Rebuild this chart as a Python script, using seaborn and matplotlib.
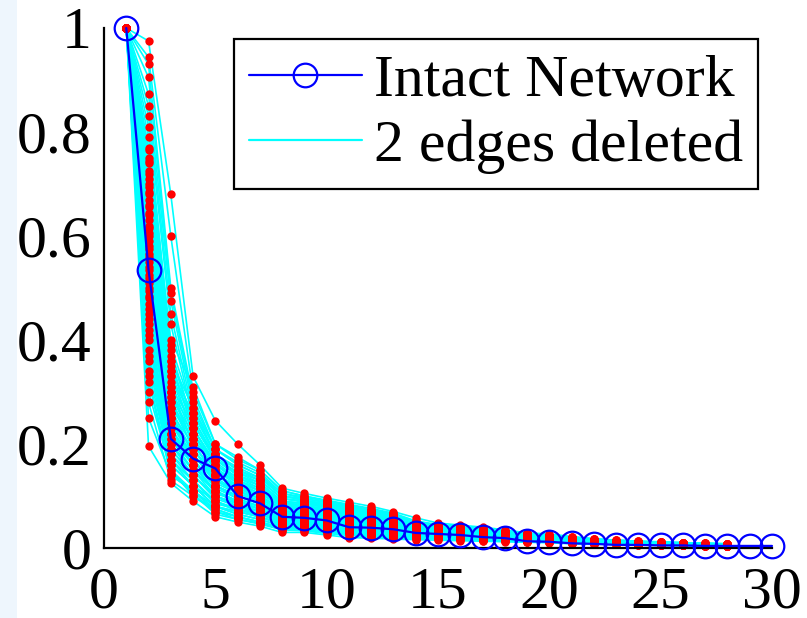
import numpy as np
import pandas as pd
import matplotlib
matplotlib.use("Agg")
import matplotlib.pyplot as plt
from matplotlib.lines import Line2D
from matplotlib.patches import Rectangle
import seaborn as sns

# ---------------- data ----------------
steps_intact = list(range(1, 31))
intact = [1.0, 0.535, 0.21, 0.172, 0.153, 0.10, 0.086, 0.06, 0.058, 0.053,
          0.04, 0.039, 0.036, 0.029, 0.027, 0.025, 0.021, 0.019, 0.013, 0.012,
          0.009, 0.008, 0.006, 0.006, 0.005, 0.005, 0.004, 0.004, 0.004, 0.004]

# values of the "2 edges deleted" curves at each step (entry i belongs to curve i)
del_s01 = [1.0] * 64
del_s02 = [0.975, 0.944, 0.93, 0.905, 0.873, 0.85, 0.83, 0.81, 0.79, 0.77, 0.75, 0.74, 0.72, 0.71, 0.70, 0.68, 0.67, 0.66, 0.64, 0.63, 0.62, 0.60, 0.59, 0.58, 0.56, 0.55, 0.54, 0.52, 0.51, 0.50, 0.48, 0.47, 0.45, 0.44, 0.42, 0.40, 0.38, 0.36, 0.34, 0.32, 0.30, 0.28, 0.25, 0.196,
           0.765, 0.745, 0.725, 0.695, 0.685, 0.655, 0.645, 0.615, 0.605, 0.575, 0.565, 0.535, 0.525, 0.495, 0.485, 0.46, 0.43, 0.41, 0.37, 0.33]
del_s03 = [0.68, 0.60, 0.50, 0.49, 0.475, 0.45, 0.43, 0.37, 0.39, 0.35, 0.34, 0.33, 0.38, 0.32, 0.31, 0.30, 0.36, 0.29, 0.28, 0.27, 0.26, 0.25, 0.30, 0.24, 0.23, 0.22, 0.25, 0.21, 0.20, 0.20, 0.19, 0.22, 0.18, 0.17, 0.18, 0.16, 0.17, 0.15, 0.16, 0.14, 0.15, 0.13, 0.14, 0.125,
           0.40, 0.36, 0.34, 0.33, 0.31, 0.30, 0.29, 0.28, 0.27, 0.26, 0.25, 0.24, 0.23, 0.22, 0.21, 0.20, 0.19, 0.17, 0.16, 0.145]
del_s04 = [0.33, 0.30, 0.29, 0.28, 0.27, 0.26, 0.25, 0.24, 0.26, 0.23, 0.22, 0.22, 0.24, 0.21, 0.20, 0.20, 0.23, 0.19, 0.19, 0.18, 0.18, 0.17, 0.20, 0.17, 0.16, 0.16, 0.17, 0.15, 0.15, 0.14, 0.14, 0.16, 0.13, 0.13, 0.14, 0.12, 0.12, 0.11, 0.12, 0.11, 0.10, 0.10, 0.11, 0.09,
           0.31, 0.27, 0.26, 0.25, 0.24, 0.23, 0.22, 0.21, 0.21, 0.20, 0.19, 0.18, 0.17, 0.17, 0.16, 0.15, 0.14, 0.13, 0.12, 0.105]
del_s05 = [0.245, 0.20, 0.19, 0.19, 0.18, 0.18, 0.17, 0.17, 0.18, 0.16, 0.16, 0.15, 0.17, 0.15, 0.14, 0.14, 0.16, 0.14, 0.13, 0.13, 0.13, 0.12, 0.14, 0.12, 0.12, 0.11, 0.12, 0.11, 0.11, 0.10, 0.10, 0.11, 0.09, 0.09, 0.10, 0.08, 0.09, 0.08, 0.08, 0.07, 0.075, 0.07, 0.075, 0.06,
           0.20, 0.19, 0.18, 0.175, 0.17, 0.165, 0.16, 0.155, 0.15, 0.145, 0.135, 0.125, 0.12, 0.115, 0.105, 0.10, 0.095, 0.085, 0.08, 0.065]
del_s06 = [0.20, 0.17, 0.165, 0.16, 0.155, 0.15, 0.145, 0.14, 0.15, 0.135, 0.13, 0.13, 0.14, 0.125, 0.12, 0.12, 0.13, 0.115, 0.11, 0.11, 0.105, 0.10, 0.115, 0.10, 0.095, 0.09, 0.10, 0.09, 0.085, 0.085, 0.08, 0.09, 0.075, 0.075, 0.08, 0.07, 0.07, 0.065, 0.07, 0.06, 0.06, 0.055, 0.06, 0.05,
           0.175, 0.16, 0.15, 0.145, 0.14, 0.135, 0.13, 0.125, 0.12, 0.115, 0.11, 0.105, 0.10, 0.095, 0.09, 0.085, 0.08, 0.075, 0.065, 0.055]
del_s07 = [0.16, 0.15, 0.145, 0.14, 0.135, 0.13, 0.125, 0.12, 0.13, 0.115, 0.11, 0.11, 0.12, 0.105, 0.10, 0.10, 0.11, 0.095, 0.095, 0.09, 0.09, 0.085, 0.10, 0.085, 0.08, 0.08, 0.085, 0.075, 0.075, 0.07, 0.07, 0.075, 0.065, 0.065, 0.07, 0.06, 0.06, 0.055, 0.06, 0.05, 0.05, 0.048, 0.05, 0.042,
           0.15, 0.14, 0.135, 0.13, 0.125, 0.12, 0.115, 0.11, 0.105, 0.10, 0.095, 0.09, 0.085, 0.08, 0.075, 0.07, 0.065, 0.06, 0.055, 0.046]
del_s08 = [0.115, 0.11, 0.105, 0.10, 0.10, 0.095, 0.09, 0.09, 0.095, 0.085, 0.085, 0.08, 0.085, 0.08, 0.075, 0.075, 0.08, 0.07, 0.07, 0.068, 0.065, 0.065, 0.07, 0.062, 0.06, 0.06, 0.062, 0.058, 0.055, 0.055, 0.052, 0.055, 0.05, 0.048, 0.05, 0.045, 0.045, 0.042, 0.045, 0.04, 0.038, 0.035, 0.038, 0.03,
           0.11, 0.105, 0.10, 0.095, 0.09, 0.088, 0.085, 0.082, 0.078, 0.075, 0.072, 0.068, 0.065, 0.062, 0.058, 0.055, 0.05, 0.047, 0.042, 0.035]
del_s09 = [0.105, 0.10, 0.098, 0.095, 0.092, 0.09, 0.086, 0.085, 0.09, 0.082, 0.08, 0.078, 0.08, 0.075, 0.072, 0.07, 0.075, 0.068, 0.066, 0.065, 0.062, 0.06, 0.066, 0.058, 0.057, 0.056, 0.058, 0.054, 0.052, 0.05, 0.049, 0.052, 0.047, 0.045, 0.047, 0.043, 0.042, 0.04, 0.042, 0.038, 0.036, 0.034, 0.036, 0.03,
           0.10, 0.095, 0.092, 0.088, 0.085, 0.082, 0.079, 0.076, 0.073, 0.07, 0.067, 0.064, 0.061, 0.058, 0.055, 0.051, 0.048, 0.044, 0.04, 0.033]
del_s10 = [0.096, 0.092, 0.09, 0.088, 0.085, 0.082, 0.08, 0.078, 0.082, 0.075, 0.073, 0.07, 0.074, 0.068, 0.066, 0.064, 0.068, 0.062, 0.06, 0.059, 0.057, 0.055, 0.06, 0.053, 0.052, 0.051, 0.053, 0.049, 0.047, 0.046, 0.045, 0.047, 0.043, 0.041, 0.043, 0.039, 0.038, 0.036, 0.038, 0.034, 0.032, 0.03, 0.032, 0.025,
           0.09, 0.087, 0.084, 0.081, 0.078, 0.075, 0.072, 0.07, 0.067, 0.064, 0.061, 0.058, 0.055, 0.052, 0.05, 0.046, 0.043, 0.04, 0.036, 0.028]
del_s11 = [0.088, 0.084, 0.082, 0.08, 0.077, 0.075, 0.072, 0.07, 0.074, 0.068, 0.066, 0.064, 0.067, 0.062, 0.06, 0.058, 0.061, 0.056, 0.055, 0.053, 0.052, 0.05, 0.054, 0.048, 0.047, 0.046, 0.048, 0.044, 0.043, 0.042, 0.04, 0.042, 0.038, 0.037, 0.038, 0.035, 0.034, 0.032, 0.034, 0.03, 0.028, 0.026, 0.028, 0.02,
           0.082, 0.079, 0.076, 0.073, 0.07, 0.068, 0.065, 0.063, 0.06, 0.057, 0.055, 0.052, 0.049, 0.046, 0.044, 0.041, 0.038, 0.035, 0.031, 0.024]
del_s12 = [0.08, 0.076, 0.074, 0.072, 0.07, 0.068, 0.065, 0.063, 0.067, 0.061, 0.06, 0.058, 0.06, 0.056, 0.054, 0.052, 0.055, 0.05, 0.049, 0.048, 0.046, 0.045, 0.048, 0.043, 0.042, 0.041, 0.043, 0.04, 0.038, 0.037, 0.036, 0.038, 0.034, 0.033, 0.034, 0.031, 0.03, 0.029, 0.03, 0.027, 0.025, 0.023, 0.025, 0.019,
           0.074, 0.071, 0.068, 0.066, 0.063, 0.061, 0.059, 0.057, 0.054, 0.052, 0.05, 0.047, 0.045, 0.042, 0.04, 0.037, 0.034, 0.031, 0.028, 0.022]
del_s13 = [0.07, 0.067, 0.065, 0.063, 0.061, 0.059, 0.057, 0.055, 0.058, 0.053, 0.052, 0.05, 0.052, 0.049, 0.047, 0.046, 0.048, 0.044, 0.043, 0.042, 0.041, 0.04, 0.042, 0.038, 0.037, 0.036, 0.038, 0.035, 0.034, 0.033, 0.032, 0.033, 0.03, 0.029, 0.03, 0.028, 0.027, 0.026, 0.027, 0.024, 0.022, 0.021, 0.022, 0.017,
           0.064, 0.062, 0.06, 0.057, 0.055, 0.053, 0.051, 0.049, 0.047, 0.045, 0.043, 0.041, 0.039, 0.037, 0.035, 0.032, 0.03, 0.027, 0.025, 0.019]
del_s14 = [0.058, 0.052, 0.05, 0.049, 0.048, 0.047, 0.045, 0.044, 0.046, 0.043, 0.042, 0.041, 0.042, 0.04, 0.039, 0.038, 0.039, 0.037, 0.036, 0.035, 0.034, 0.033, 0.035, 0.032, 0.031, 0.03, 0.031, 0.029, 0.028, 0.028, 0.027, 0.028, 0.026, 0.025, 0.026, 0.024, 0.023, 0.022, 0.023, 0.021, 0.02, 0.019, 0.02, 0.016,
           0.051, 0.049, 0.047, 0.046, 0.044, 0.043, 0.041, 0.04, 0.038, 0.037, 0.035, 0.034, 0.032, 0.031, 0.029, 0.027, 0.025, 0.023, 0.021, 0.018]
del_s15 = [0.048, 0.045, 0.044, 0.043, 0.042, 0.041, 0.04, 0.039, 0.04, 0.038, 0.037, 0.036, 0.037, 0.035, 0.034, 0.034, 0.035, 0.033, 0.032, 0.031, 0.031, 0.03, 0.031, 0.029, 0.028, 0.028, 0.029, 0.027, 0.026, 0.026, 0.025, 0.026, 0.024, 0.023, 0.024, 0.022, 0.022, 0.021, 0.021, 0.02, 0.019, 0.018, 0.019, 0.015,
           0.044, 0.042, 0.041, 0.04, 0.038, 0.037, 0.036, 0.035, 0.034, 0.033, 0.031, 0.03, 0.029, 0.028, 0.027, 0.025, 0.023, 0.021, 0.02, 0.017]
del_s16 = [0.044, 0.041, 0.04, 0.039, 0.038, 0.037, 0.036, 0.035, 0.036, 0.034, 0.033, 0.033, 0.034, 0.032, 0.031, 0.031, 0.032, 0.03, 0.029, 0.029, 0.028, 0.028, 0.029, 0.027, 0.026, 0.026, 0.027, 0.025, 0.025, 0.024, 0.024, 0.024, 0.023, 0.022, 0.023, 0.021, 0.021, 0.02, 0.02, 0.019, 0.018, 0.017, 0.018, 0.014,
           0.04, 0.038, 0.037, 0.036, 0.035, 0.034, 0.033, 0.032, 0.031, 0.03, 0.029, 0.028, 0.027, 0.026, 0.025, 0.023, 0.022, 0.02, 0.019, 0.016]
del_s17 = [0.04, 0.037, 0.036, 0.035, 0.034, 0.033, 0.032, 0.032, 0.033, 0.031, 0.03, 0.03, 0.031, 0.029, 0.028, 0.028, 0.029, 0.027, 0.027, 0.026, 0.026, 0.025, 0.026, 0.024, 0.024, 0.023, 0.024, 0.023, 0.022, 0.022, 0.021, 0.022, 0.02, 0.02, 0.02, 0.019, 0.019, 0.018, 0.018, 0.017, 0.016, 0.015, 0.016, 0.013,
           0.036, 0.035, 0.034, 0.033, 0.032, 0.031, 0.03, 0.029, 0.028, 0.027, 0.026, 0.025, 0.024, 0.023, 0.022, 0.021, 0.02, 0.018, 0.017, 0.014]
del_s18 = [0.035, 0.033, 0.032, 0.031, 0.03, 0.03, 0.029, 0.028, 0.029, 0.028, 0.027, 0.027, 0.027, 0.026, 0.025, 0.025, 0.026, 0.024, 0.024, 0.023, 0.023, 0.022, 0.023, 0.022, 0.021, 0.021, 0.021, 0.02, 0.02, 0.019, 0.019, 0.019, 0.018, 0.018, 0.018, 0.017, 0.017, 0.016, 0.016, 0.015, 0.015, 0.014, 0.014, 0.012,
           0.032, 0.031, 0.03, 0.029, 0.028, 0.028, 0.027, 0.026, 0.025, 0.024, 0.023, 0.022, 0.022, 0.021, 0.02, 0.019, 0.018, 0.016, 0.015, 0.013]
del_s19 = [0.029, 0.028, 0.027, 0.027, 0.026, 0.026, 0.025, 0.024, 0.025, 0.024, 0.023, 0.023, 0.023, 0.022, 0.022, 0.021, 0.022, 0.021, 0.02, 0.02, 0.02, 0.019, 0.02, 0.019, 0.018, 0.018, 0.018, 0.017, 0.017, 0.017, 0.016, 0.016, 0.016, 0.015, 0.015, 0.015, 0.014, 0.014, 0.014, 0.013, 0.013, 0.012, 0.012, 0.011,
           0.028, 0.027, 0.026, 0.025, 0.025, 0.024, 0.023, 0.022, 0.022, 0.021, 0.02, 0.019, 0.019, 0.018, 0.017, 0.016, 0.015, 0.014, 0.013, 0.012]
del_s20 = [0.027, 0.025, 0.024, 0.024, 0.023, 0.023, 0.022, 0.022, 0.022, 0.021, 0.021, 0.02, 0.021, 0.02, 0.019, 0.019, 0.02, 0.019, 0.018, 0.018, 0.018, 0.017, 0.018, 0.017, 0.016, 0.016, 0.016, 0.016, 0.015, 0.015, 0.015, 0.015, 0.014, 0.014, 0.014, 0.013, 0.013, 0.013, 0.013, 0.012, 0.012, 0.011, 0.011, 0.01,
           0.025, 0.024, 0.023, 0.023, 0.022, 0.021, 0.021, 0.02, 0.02, 0.019, 0.018, 0.018, 0.017, 0.016, 0.016, 0.015, 0.014, 0.013, 0.012, 0.011]
del_s21 = [0.022, 0.021, 0.02, 0.02, 0.019, 0.019, 0.018, 0.018, 0.018, 0.017, 0.017, 0.017, 0.017, 0.016, 0.016, 0.016, 0.016, 0.015, 0.015, 0.015, 0.014, 0.014, 0.015, 0.014, 0.013, 0.013, 0.013, 0.013, 0.012, 0.012, 0.012, 0.012, 0.011, 0.011, 0.011, 0.011, 0.01, 0.01, 0.01, 0.01, 0.009, 0.009, 0.009, 0.008,
           0.021, 0.02, 0.019, 0.019, 0.018, 0.018, 0.017, 0.017, 0.016, 0.016, 0.015, 0.015, 0.014, 0.014, 0.013, 0.012, 0.012, 0.011, 0.01, 0.009]
del_s22 = [0.018, 0.017, 0.017, 0.016, 0.016, 0.016, 0.015, 0.015, 0.015, 0.015, 0.014, 0.014, 0.014, 0.014, 0.013, 0.013, 0.013, 0.013, 0.013, 0.012, 0.012, 0.012, 0.012, 0.012, 0.011, 0.011, 0.011, 0.011, 0.011, 0.01, 0.01, 0.01, 0.01, 0.01, 0.01, 0.009, 0.009, 0.009, 0.009, 0.009, 0.008, 0.008, 0.008, 0.007,
           0.017, 0.016, 0.016, 0.015, 0.015, 0.015, 0.014, 0.014, 0.013, 0.013, 0.013, 0.012, 0.012, 0.011, 0.011, 0.01, 0.01, 0.009, 0.009, 0.008]
del_s23 = [0.015, 0.015, 0.014, 0.014, 0.014, 0.013, 0.013, 0.013, 0.013, 0.013, 0.012, 0.012, 0.012, 0.012, 0.012, 0.011, 0.011, 0.011, 0.011, 0.011, 0.011, 0.01, 0.011, 0.01, 0.01, 0.01, 0.01, 0.01, 0.009, 0.009, 0.009, 0.009, 0.009, 0.009, 0.009, 0.008, 0.008, 0.008, 0.008, 0.008, 0.008, 0.007, 0.007, 0.007,
           0.015, 0.014, 0.014, 0.013, 0.013, 0.013, 0.012, 0.012, 0.012, 0.011, 0.011, 0.011, 0.01, 0.01, 0.01, 0.009, 0.009, 0.008, 0.008, 0.007]
del_s24 = [0.013, 0.013, 0.012, 0.012, 0.012, 0.012, 0.011, 0.011, 0.011, 0.011, 0.011, 0.011, 0.011, 0.01, 0.01, 0.01, 0.01, 0.01, 0.01, 0.009, 0.009, 0.009, 0.009, 0.009, 0.009, 0.009, 0.009, 0.008, 0.008, 0.008, 0.008, 0.008, 0.008, 0.008, 0.008, 0.007, 0.007, 0.007, 0.007, 0.007, 0.007, 0.006, 0.006, 0.006,
           0.013, 0.012, 0.012, 0.012, 0.011, 0.011, 0.011, 0.01, 0.01, 0.01, 0.01, 0.009, 0.009, 0.009, 0.008, 0.008, 0.008, 0.007, 0.007, 0.006]
del_s25 = [0.012, 0.011, 0.011, 0.011, 0.011, 0.01, 0.01, 0.01, 0.01, 0.01, 0.01, 0.01, 0.01, 0.009, 0.009, 0.009, 0.009, 0.009, 0.009, 0.009, 0.008, 0.008, 0.008, 0.008, 0.008, 0.008, 0.008, 0.008, 0.007, 0.007, 0.007, 0.007, 0.007, 0.007, 0.007, 0.006, 0.006, 0.006, 0.006, 0.006, 0.006, 0.006, 0.005, 0.005,
           0.011, 0.011, 0.011, 0.01, 0.01, 0.01, 0.01, 0.009, 0.009, 0.009, 0.009, 0.008, 0.008, 0.008, 0.007, 0.007, 0.007, 0.006, 0.006, 0.005]
del_s26 = [0.01, 0.01, 0.01, 0.009, 0.009, 0.009, 0.009, 0.009, 0.009, 0.009, 0.008, 0.008, 0.008, 0.008, 0.008, 0.008, 0.008, 0.008, 0.008, 0.007, 0.007, 0.007, 0.007, 0.007, 0.007, 0.007, 0.007, 0.007, 0.006, 0.006, 0.006, 0.006, 0.006, 0.006, 0.006, 0.006, 0.006, 0.005, 0.005, 0.005, 0.005, 0.005, 0.005, 0.005,
           0.01, 0.01, 0.009, 0.009, 0.009, 0.009, 0.008, 0.008, 0.008, 0.008, 0.008, 0.007, 0.007, 0.007, 0.007, 0.006, 0.006, 0.006, 0.005, 0.005]
del_s27 = [0.009, 0.009, 0.009, 0.008, 0.008, 0.008, 0.008, 0.008, 0.008, 0.008, 0.007, 0.007, 0.007, 0.007, 0.007, 0.007, 0.007, 0.007, 0.007, 0.006, 0.006, 0.006, 0.006, 0.006, 0.006, 0.006, 0.006, 0.006, 0.005, 0.005, 0.005, 0.005, 0.005, 0.005, 0.005, 0.005, 0.005, 0.005, 0.004, 0.004, 0.004, 0.004, 0.004, 0.004,
           0.009, 0.009, 0.008, 0.008, 0.008, 0.008, 0.008, 0.007, 0.007, 0.007, 0.007, 0.006, 0.006, 0.006, 0.006, 0.005, 0.005, 0.005, 0.005, 0.004]
del_s28 = [0.008, 0.008, 0.007, 0.007, 0.007, 0.007, 0.007, 0.007, 0.007, 0.006, 0.006, 0.006, 0.006, 0.006, 0.006, 0.006, 0.006, 0.006, 0.006, 0.005, 0.005, 0.005, 0.005, 0.005, 0.005, 0.005, 0.005, 0.005, 0.005, 0.004, 0.004, 0.004, 0.004, 0.004, 0.004, 0.004, 0.004, 0.004, 0.004, 0.004, 0.003, 0.003, 0.003, 0.003,
           0.008, 0.007, 0.007, 0.007, 0.007, 0.006, 0.006, 0.006, 0.006, 0.006, 0.005, 0.005, 0.005, 0.005, 0.005, 0.004, 0.004, 0.004, 0.004, 0.003]

deleted_columns = [del_s01, del_s02, del_s03, del_s04, del_s05, del_s06, del_s07,
                   del_s08, del_s09, del_s10, del_s11, del_s12, del_s13, del_s14,
                   del_s15, del_s16, del_s17, del_s18, del_s19, del_s20, del_s21,
                   del_s22, del_s23, del_s24, del_s25, del_s26, del_s27, del_s28]

x_ticks = [0, 5, 10, 15, 20, 25, 30]
y_ticks = [0, 0.2, 0.4, 0.6, 0.8, 1]
y_tick_labels = ["0", "0.2", "0.4", "0.6", "0.8", "1"]
legend_labels = ["Intact Network", "2 edges deleted"]

rows = []
for step, col in enumerate(deleted_columns, start=1):
    for sid, v in enumerate(col):
        rows.append({"series": sid, "step": step, "value": v})
df_del = pd.DataFrame(rows)
df_int = pd.DataFrame({"step": steps_intact, "value": intact})

# ---------------- plot ----------------
sns.set_style("white")
plt.rcParams["font.family"] = ["Liberation Serif", "DejaVu Serif"]
plt.rcParams["text.color"] = "black"
plt.rcParams["axes.labelcolor"] = "black"
plt.rcParams["xtick.color"] = "black"
plt.rcParams["ytick.color"] = "black"

W, H = 807, 618
fig = plt.figure(figsize=(W / 100, H / 100), dpi=100)
fig.patches.append(Rectangle((0, 0), 17 / W, 1, transform=fig.transFigure,
                             facecolor="#eef6fd", edgecolor="none", zorder=-5))
ax = fig.add_axes([104 / W, 70 / H, 668 / W, 520 / H])
ax.set_facecolor("white")

sns.lineplot(data=df_del, x="step", y="value", units="series", estimator=None,
             color="#00FFFF", linewidth=1.2, ax=ax, legend=False, zorder=1,
             clip_on=False)
sns.scatterplot(data=df_del, x="step", y="value", color="#FF0000", s=36,
                linewidth=0, ax=ax, legend=False, zorder=2, clip_on=False)
sns.lineplot(data=df_int, x="step", y="value", color="#0000FF", linewidth=1.6,
             marker="o", markersize=17, markerfacecolor="none",
             markeredgecolor="#0000FF", markeredgewidth=1.6, ax=ax,
             legend=False, zorder=3, clip_on=False)

ax.set_xlim(0, 30)
ax.set_ylim(0, 1)
ax.set_xticks(x_ticks)
ax.set_xticklabels([str(t) for t in x_ticks])
ax.set_yticks(y_ticks)
ax.set_yticklabels(y_tick_labels)
ax.set_xlabel("")
ax.set_ylabel("")
for s in ["top", "right"]:
    ax.spines[s].set_visible(False)
for s in ["left", "bottom"]:
    ax.spines[s].set_color("black")
    ax.spines[s].set_linewidth(1.6)
ax.tick_params(axis="both", direction="in", length=4.5, width=1.5,
               labelsize=43, colors="black")
ax.tick_params(axis="x", pad=13)
ax.tick_params(axis="y", pad=9)

handles = [Line2D([], [], color="#0000FF", lw=1.6, marker="o", ms=17,
                  mfc="none", mec="#0000FF", mew=1.6),
           Line2D([], [], color="#00FFFF", lw=1.6)]
leg = ax.legend(handles, legend_labels, loc="upper right",
                bbox_to_anchor=(758 / W, 1 - 39 / H),
                bbox_transform=fig.transFigure, borderaxespad=0,
                fontsize=43, frameon=True, fancybox=False, framealpha=1,
                edgecolor="black", borderpad=0.25, labelspacing=0.18,
                handlelength=1.9, handletextpad=0.2)
leg.get_frame().set_linewidth(1.6)
for t in leg.get_texts():
    t.set_color("black")

fig.savefig("out.png", dpi=100)
